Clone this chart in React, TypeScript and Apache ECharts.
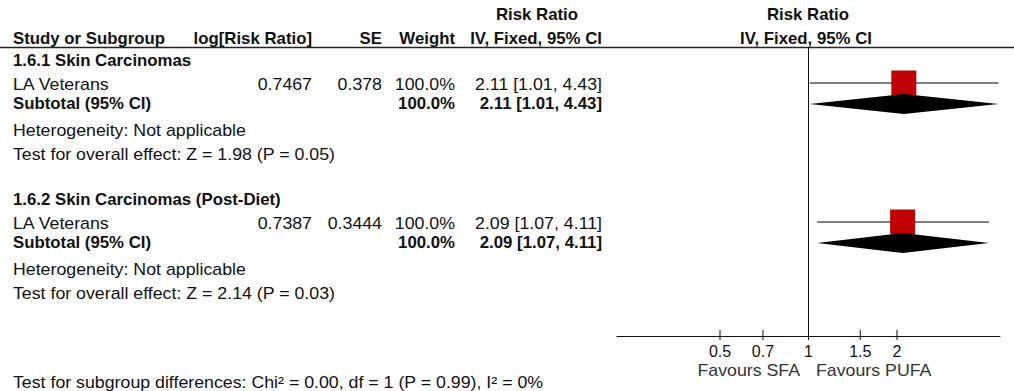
import React, { useEffect, useRef } from "react";
import * as echarts from "echarts";

// ---------- data ----------
const groupTitles = ["1.6.1 Skin Carcinomas", "1.6.2 Skin Carcinomas (Post-Diet)"];
const studyNames = ["LA Veterans", "LA Veterans"];
const logRR = ["0.7467", "0.7387"];
const seValues = ["0.378", "0.3444"];
const studyWeights = [100.0, 100.0];
const studyRR = [2.11, 2.09];
const studyLower = [1.01, 1.07];
const studyUpper = [4.43, 4.11];
const subtotalWeights = [100.0, 100.0];
const subtotalRR = [2.11, 2.09];
const subtotalLower = [1.01, 1.07];
const subtotalUpper = [4.43, 4.11];
const heterogeneity = ["Not applicable", "Not applicable"];
const zValues = ["1.98", "2.14"];
const pValues = ["0.05", "0.03"];
const xTicks = [0.5, 0.7, 1, 1.5, 2];
const axisRange = [Math.exp(-1.5), Math.exp(1.5)];
const favoursLeft = "Favours SFA";
const favoursRight = "Favours PUFA";
const subgroupTest = "Test for subgroup differences: Chi\u00b2 = 0.00, df = 1 (P = 0.99), I\u00b2 = 0%";

// ---------- layout ----------
const W = 1014;
const H = 391;
const FONT = '"Liberation Sans", Arial, sans-serif';
const FS = 16;
const SX_REG = 1.11;
const SX_BOLD = 1.05;
const GRID = { left: 617, right: 14, top: 47, bottom: 55 };
const GROUP_Y = [60, 199];
const ROW_OFF = { title: 0, study: 25, subtotal: 43, het: 71, test: 95 };
const MARK_OFF = { study: 23, subtotal: 44 };
const COL = { name: 13, logrr: 312, se: 382, weight: 455, ci: 602 };
const SQUARE = 25;
const DIAMOND_H = 10;

const fmtCI = (r: number, l: number, u: number) =>
  `${r.toFixed(2)} [${l.toFixed(2)}, ${u.toFixed(2)}]`;

function txt(text: string, x: number, y: number, align: string, bold = false, fill = "#111") {
  return {
    type: "text",
    x,
    y,
    scaleX: bold ? SX_BOLD : SX_REG,
    silent: true,
    style: {
      text,
      font: `${bold ? "bold " : ""}${FS}px ${FONT}`,
      fill,
      textAlign: align,
      textVerticalAlign: "middle",
      align,
      verticalAlign: "middle",
    },
  };
}

export default function App() {
  const ref = useRef<HTMLDivElement>(null);
  useEffect(() => {
    if (!ref.current) return;
    const chart = echarts.init(ref.current, undefined, { renderer: "svg", width: W, height: H });

    const texts: any[] = [
      txt("Risk Ratio", 537, 14, "center", true),
      txt("Risk Ratio", 808, 14, "center", true),
      txt("Study or Subgroup", COL.name, 38, "left", true),
      txt("log[Risk Ratio]", COL.logrr, 38, "right", true),
      txt("SE", COL.se, 38, "right", true),
      txt("Weight", COL.weight, 38, "right", true),
      txt("IV, Fixed, 95% CI", COL.ci, 38, "right", true),
      txt("IV, Fixed, 95% CI", 806, 38, "center", true),
      {
        type: "line",
        silent: true,
        shape: { x1: 0, y1: 47.5, x2: W, y2: 47.5 },
        style: { stroke: "#222", lineWidth: 1.5 },
      },
      txt(favoursLeft, 800, 371, "right", false, "#333"),
      txt(favoursRight, 816, 371, "left", false, "#333"),
      txt(subgroupTest, COL.name, 383, "left"),
    ];
    groupTitles.forEach((g, i) => {
      const b = GROUP_Y[i];
      texts.push(txt(g, COL.name, b + ROW_OFF.title, "left", true));
      texts.push(txt(studyNames[i], COL.name, b + ROW_OFF.study, "left"));
      texts.push(txt(logRR[i], COL.logrr, b + ROW_OFF.study, "right"));
      texts.push(txt(seValues[i], COL.se, b + ROW_OFF.study, "right"));
      texts.push(txt(studyWeights[i].toFixed(1) + "%", COL.weight, b + ROW_OFF.study, "right"));
      texts.push(txt(fmtCI(studyRR[i], studyLower[i], studyUpper[i]), COL.ci, b + ROW_OFF.study, "right"));
      texts.push(txt("Subtotal (95% CI)", COL.name, b + ROW_OFF.subtotal, "left", true));
      texts.push(txt(subtotalWeights[i].toFixed(1) + "%", COL.weight, b + ROW_OFF.subtotal, "right", true));
      texts.push(txt(fmtCI(subtotalRR[i], subtotalLower[i], subtotalUpper[i]), COL.ci, b + ROW_OFF.subtotal, "right", true));
      texts.push(txt("Heterogeneity: " + heterogeneity[i], COL.name, b + ROW_OFF.het, "left"));
      texts.push(txt(`Test for overall effect: Z = ${zValues[i]} (P = ${pValues[i]})`, COL.name, b + ROW_OFF.test, "left"));
    });

    const yMin = GRID.top;
    const yMax = H - GRID.bottom;

    const studyData = studyRR.map((r, i) => [studyLower[i], r, studyUpper[i], GROUP_Y[i] + MARK_OFF.study]);
    const subData = subtotalRR.map((r, i) => [subtotalLower[i], r, subtotalUpper[i], GROUP_Y[i] + MARK_OFF.subtotal]);

    chart.setOption({
      animation: false,
      grid: { ...GRID, containLabel: false },
      xAxis: {
        type: "log",
        logBase: Math.E,
        min: axisRange[0],
        max: axisRange[1],
        axisLine: { show: true, lineStyle: { color: "#111", width: 1 } },
        axisTick: { show: false },
        splitLine: { show: false },
        axisLabel: {
          customValues: xTicks,
          formatter: (v: number) => String(+v.toFixed(1)),
          color: "#111",
          fontSize: FS,
          fontFamily: FONT,
          margin: 7,
        },
      },
      yAxis: { type: "value", min: yMin, max: yMax, inverse: true, show: false },
      graphic: { elements: texts },
      series: [
        {
          type: "custom",
          silent: true,
          data: xTicks.map((t) => [t]),
          renderItem: (params: any, api: any) => {
            const p = api.coord([api.value(0), yMax]);
            return {
              type: "line",
              shape: { x1: p[0], y1: p[1] - 6, x2: p[0], y2: p[1] + 4 },
              style: { stroke: "#111", lineWidth: 1 },
            };
          },
        },
        {
          type: "custom",
          silent: true,
          data: [[1]],
          renderItem: (params: any, api: any) => {
            const a = api.coord([api.value(0), yMin]);
            const b = api.coord([api.value(0), yMax]);
            return {
              type: "line",
              shape: { x1: a[0], y1: a[1], x2: b[0], y2: b[1] + 4 },
              style: { stroke: "#111", lineWidth: 1 },
            };
          },
        },
        {
          type: "custom",
          silent: true,
          data: studyData,
          renderItem: (params: any, api: any) => {
            const l = api.coord([api.value(0), api.value(3)]);
            const c = api.coord([api.value(1), api.value(3)]);
            const u = api.coord([api.value(2), api.value(3)]);
            return {
              type: "group",
              children: [
                {
                  type: "line",
                  shape: { x1: l[0], y1: l[1], x2: u[0], y2: u[1] },
                  style: { stroke: "#000", lineWidth: 1 },
                },
                {
                  type: "rect",
                  shape: { x: c[0] - SQUARE / 2, y: c[1] - SQUARE / 2, width: SQUARE, height: SQUARE },
                  style: { fill: "#C00000" },
                },
              ],
            };
          },
        },
        {
          type: "custom",
          silent: true,
          data: subData,
          renderItem: (params: any, api: any) => {
            const l = api.coord([api.value(0), api.value(3)]);
            const c = api.coord([api.value(1), api.value(3)]);
            const u = api.coord([api.value(2), api.value(3)]);
            return {
              type: "polygon",
              shape: {
                points: [
                  [l[0], l[1]],
                  [c[0], c[1] - DIAMOND_H],
                  [u[0], u[1]],
                  [c[0], c[1] + DIAMOND_H],
                ],
              },
              style: { fill: "#000" },
            };
          },
        },
      ],
    });
    return () => chart.dispose();
  }, []);

  return (
    <div
      ref={ref}
      style={{ position: "fixed", left: 0, top: 0, width: W, height: H, background: "#fff" }}
    />
  );
}
